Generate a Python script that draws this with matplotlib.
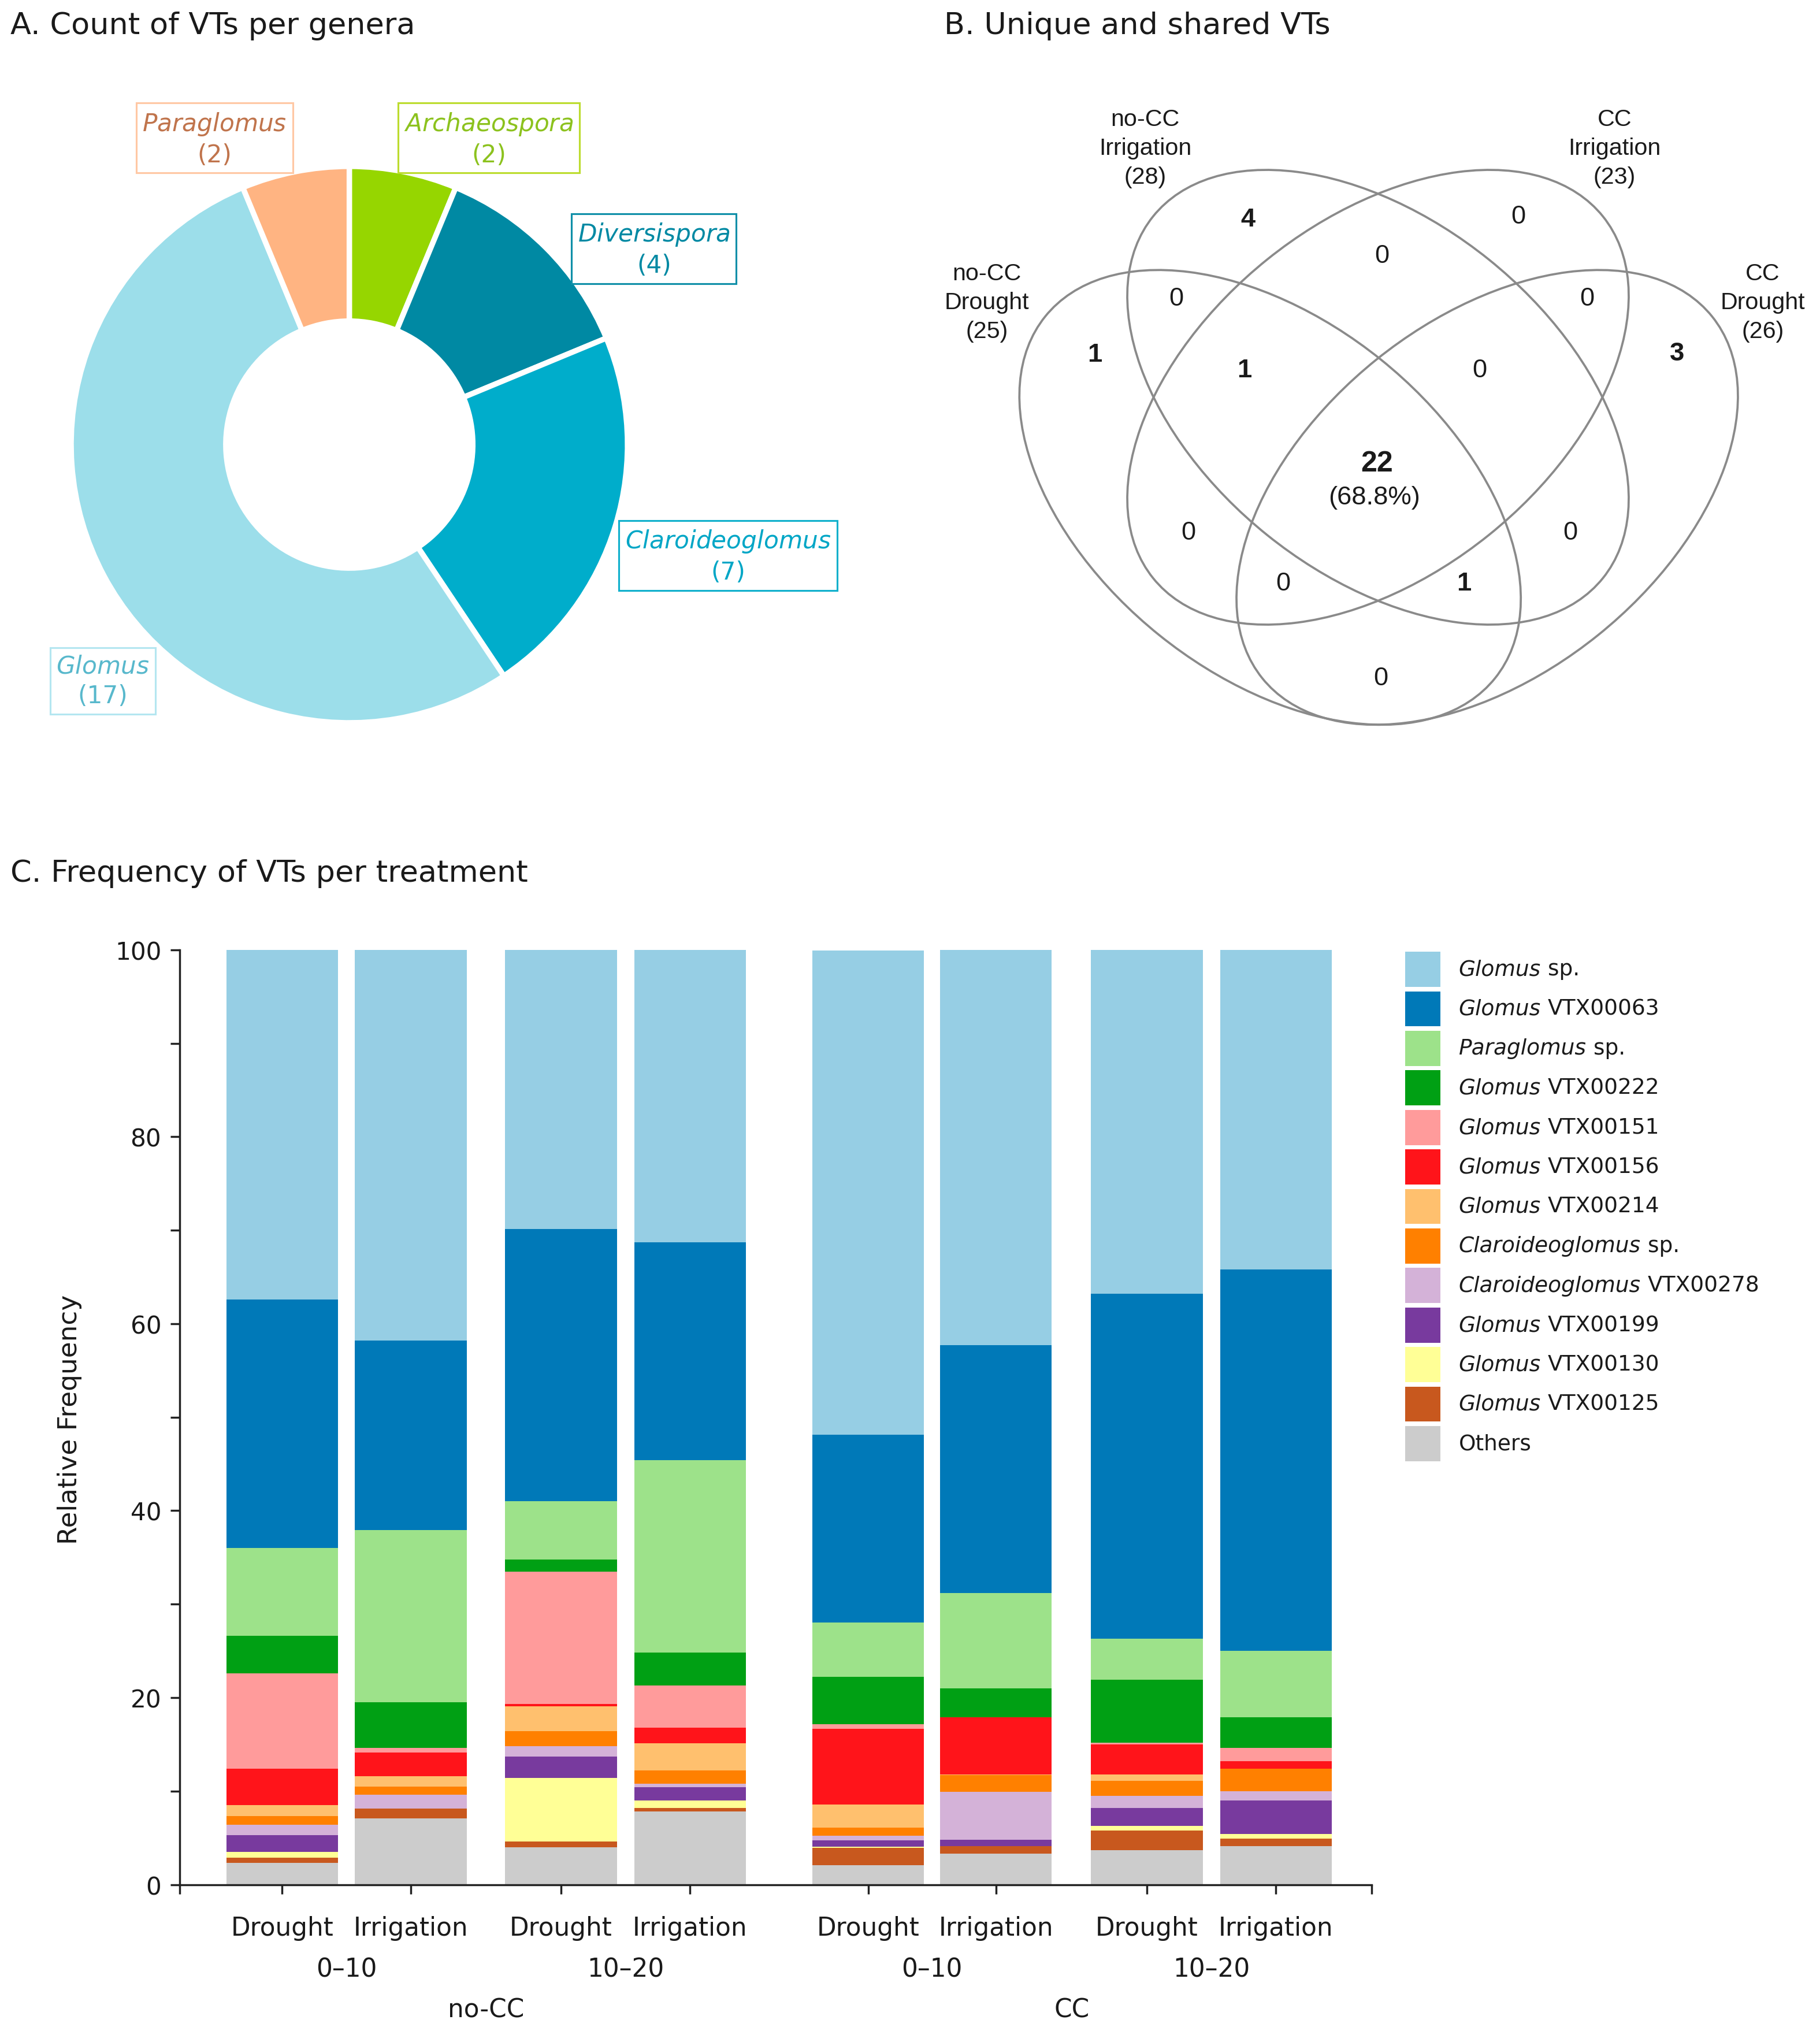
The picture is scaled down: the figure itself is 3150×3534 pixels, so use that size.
import matplotlib.pyplot as plt
import matplotlib.transforms as mtransforms
import numpy as np
from matplotlib.patches import Ellipse, Rectangle

# ---- A. count of VTs per genera
genera = ['Archaeospora', 'Diversispora', 'Claroideoglomus', 'Glomus', 'Paraglomus']
genus_counts = [2, 4, 7, 17, 2]
genus_colors = ['#96d600', '#0089a3', '#00adcb', '#9cdeea', '#ffb482']
genus_text_colors = ['#8cc21e', '#0089a3', '#00a6c6', '#58b8cc', '#c0744c']
genus_box_colors = ['#bcdc2e', '#0f8fa8', '#10b0cc', '#b4e6f0', '#ffc8a4']

# ---- B. unique and shared VTs
venn_sets = ['no-CC\nDrought', 'no-CC\nIrrigation', 'CC\nIrrigation', 'CC\nDrought']
venn_set_sizes = [25, 28, 23, 26]
venn_regions = ['D', 'I', 'cI', 'cD', 'D&I', 'I&cI', 'cI&cD', 'D&I&cI', 'I&cI&cD',
                'all', 'D&cI', 'I&cD', 'D&cI&cD', 'D&I&cD', 'D&cD']
venn_counts = [1, 4, 0, 3, 0, 0, 0, 1, 0, 22, 0, 0, 0, 1, 0]

# ---- C. frequency of VTs per treatment
treatments = ['Drought', 'Irrigation'] * 4
depths = ['0\u201310', '10\u201320', '0\u201310', '10\u201320']
systems = ['no-CC', 'CC']

vt_names = ['Others', 'Glomus VTX00125', 'Glomus VTX00130', 'Glomus VTX00199',
            'Claroideoglomus VTX00278', 'Claroideoglomus sp.', 'Glomus VTX00214',
            'Glomus VTX00156', 'Glomus VTX00151', 'Glomus VTX00222',
            'Paraglomus sp.', 'Glomus VTX00063', 'Glomus sp.']
others = [2.3, 7.1, 4.0, 7.8, 2.1, 3.3, 3.7, 4.1]
vtx00125 = [0.6, 1.0, 0.6, 0.4, 1.8, 0.8, 2.1, 0.8]
vtx00130 = [0.6, 0.0, 6.8, 0.8, 0.15, 0.0, 0.5, 0.5]
vtx00199 = [1.8, 0.0, 2.3, 1.4, 0.7, 0.7, 1.9, 3.6]
vtx00278 = [1.1, 1.5, 1.1, 0.4, 0.45, 5.1, 1.3, 1.0]
claro_sp = [0.9, 0.9, 1.6, 1.4, 0.9, 1.8, 1.6, 2.4]
vtx00214 = [1.2, 1.1, 2.7, 2.9, 2.45, 0.1, 0.7, 0.0]
vtx00156 = [3.9, 2.5, 0.2, 1.7, 8.1, 6.1, 3.2, 0.8]
vtx00151 = [10.2, 0.5, 14.2, 4.5, 0.5, 0.0, 0.2, 1.4]
vtx00222 = [4.0, 4.9, 1.3, 3.5, 5.1, 3.1, 6.7, 3.3]
paraglomus_sp = [9.4, 18.4, 6.2, 20.6, 5.8, 10.2, 4.4, 7.1]
vtx00063 = [26.6, 20.3, 29.1, 23.3, 20.1, 26.5, 36.9, 40.8]
glomus_sp = [37.4, 41.8, 29.9, 31.3, 51.8, 42.3, 36.8, 34.2]
vt_colors = ['#cccccc', '#c8581e', '#ffff96', '#783a9e', '#d4b2d8', '#ff8000',
             '#ffc06e', '#ff141a', '#ff9b9b', '#00a014', '#9de28a', '#0079b8', '#96cee4']

TXT = '#1a1a1a'
W, H = 1400, 1571.1
fig = plt.figure(figsize=(14, 15.711), dpi=225)


def Y(y):
    return H - y


# bar chart axes
ax = fig.add_axes([138 / W, (H - 1450) / H, (1055 - 138) / W, (1450 - 731) / H])
pos = np.array([0, 0.997, 2.16, 3.16, 4.54, 5.53, 6.70, 7.70])
series = [others, vtx00125, vtx00130, vtx00199, vtx00278, claro_sp, vtx00214,
          vtx00156, vtx00151, vtx00222, paraglomus_sp, vtx00063, glomus_sp]
bottom = np.zeros(len(pos))
for vals, col in zip(series, vt_colors):
    ax.bar(pos, vals, width=0.866, bottom=bottom, color=col, linewidth=0)
    bottom += np.array(vals)

ax.set_xlim(-0.796, 8.44)
ax.set_ylim(0, 100)
for s in ['top', 'right']:
    ax.spines[s].set_visible(False)
for s in ['left', 'bottom']:
    ax.spines[s].set_linewidth(1.1)
    ax.spines[s].set_color('#222222')
ax.set_yticks(range(0, 101, 20))
ax.set_yticks(range(10, 100, 20), minor=True)
ax.set_xticks(pos, treatments)
ax.set_xticks([-0.796, 8.44], minor=True)
ax.tick_params(which='both', length=5, width=1.1, color='#222222')
ax.tick_params(axis='y', labelsize=13.5, pad=5, labelcolor=TXT)
ax.tick_params(axis='x', labelsize=14, pad=12, labelcolor=TXT)

# overlay axes in page pixels
ax0 = fig.add_axes([0, 0, 1, 1])
ax0.pie(genus_counts, colors=genus_colors, startangle=90, counterclock=False,
        center=(268.7, Y(342.4)), radius=214,
        wedgeprops=dict(width=119, edgecolor='white', linewidth=3))
ax0.set_xlim(0, W)
ax0.set_ylim(0, H)
ax0.set_aspect('auto')
ax0.axis('off')

ax0.text(8, Y(20), 'A. Count of VTs per genera', fontsize=16.8, color=TXT, va='center')
ax0.text(726, Y(20), 'B. Unique and shared VTs', fontsize=16.8, color=TXT, va='center')
ax0.text(8, Y(672), 'C. Frequency of VTs per treatment', fontsize=16.8, color=TXT, va='center')

label_xy = [(376, 107), (503, 192), (560, 428), (79, 524), (165, 107)]
for g, n, (lx, ly), tc, bc in zip(genera, genus_counts, label_xy, genus_text_colors, genus_box_colors):
    ax0.text(lx, Y(ly), '$\\mathit{%s}$\n(%d)' % (g, n), fontsize=13.5, color=tc,
             ha='center', va='center', linespacing=1.3,
             bbox=dict(boxstyle='square,pad=0.25', fc='white', ec=bc, lw=1.0))

# venn
ell = [((977, 383), -38.8), ((1060, 306), -38.8), ((1060, 306), 38.8), ((1144, 383), 38.8)]
for (cx, cy), ang in ell:
    ax0.add_patch(Ellipse((cx, Y(cy)), 444, 272, angle=ang, fill=False,
                          edgecolor='#8a8a8a', lw=1.2))
set_xy = [(759, 233), (881, 114), (1242, 114), (1356, 233)]
for name, n, (lx, ly) in zip(venn_sets, venn_set_sizes, set_xy):
    ax0.text(lx, Y(ly), '%s\n(%d)' % (name, n), family='Liberation Sans', fontsize=13.2,
             ha='center', va='center', linespacing=1.4, color=TXT)
region_xy = [(842, 273), (960, 169), (1168, 167), (1290, 272), (905, 230), (1063, 197),
             (1221, 230), (957, 285), (1138, 285), (1059, 357), (914, 410), (1208, 410),
             (987, 449), (1126, 449), (1062, 522)]
total = sum(venn_counts)
for r, n, (lx, ly) in zip(venn_regions, venn_counts, region_xy):
    big = 16 if r == 'all' else 14.5
    ax0.text(lx, Y(ly), str(n), family='Liberation Sans', fontsize=big,
             fontweight='bold' if n > 0 else 'normal', ha='center', va='center', color=TXT)
    if r == 'all':
        ax0.text(lx - 2, Y(ly + 26), '(%.1f%%)' % (100 * n / total), family='Liberation Sans',
                 fontsize=14.5, ha='center', va='center', color=TXT)

# bar chart labels
ax0.text(53.5, Y(1092), 'Relative Frequency', rotation=90, fontsize=14.5,
         ha='center', va='center', color=TXT)
tr = mtransforms.blended_transform_factory(ax.transData, ax0.transData)
for i, d in enumerate(depths):
    ax.text(pos[2 * i:2 * i + 2].mean(), Y(1515), d, transform=tr, fontsize=14,
            ha='center', va='center', color=TXT)
for i, s in enumerate(systems):
    ax.text(pos[4 * i:4 * i + 4].mean(), Y(1546), s, transform=tr, fontsize=14,
            ha='center', va='center', color=TXT)

# legend (italic genus + plain rest)
renderer = fig.canvas.get_renderer()
inv = ax0.transData.inverted()
for i, (name, col) in enumerate(zip(vt_names[::-1], vt_colors[::-1])):
    yc = 746 + i * 30.4
    ax0.add_patch(Rectangle((1081, Y(yc + 13.5)), 27, 27, fc=col, ec='none'))
    if name == 'Others':
        ax0.text(1122, Y(yc), name, fontsize=12, va='center', color=TXT)
        continue
    gen, rest = name.split(' ', 1)
    t = ax0.text(1122, Y(yc), gen, fontsize=12, style='italic', va='center', color=TXT)
    bb = t.get_window_extent(renderer)
    x_end = inv.transform((bb.x1, bb.y0))[0]
    ax0.text(x_end + 5.5, Y(yc), rest, fontsize=12, va='center', color=TXT)

fig.savefig('out.png', dpi=225)
